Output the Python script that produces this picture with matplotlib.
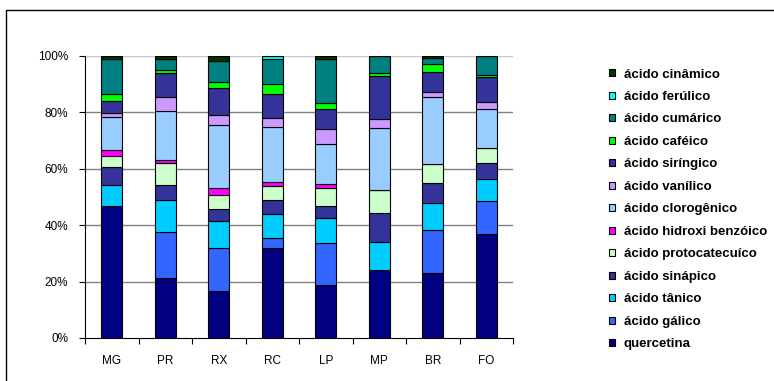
import matplotlib

matplotlib.use("Agg")

import matplotlib.pyplot as plt
from matplotlib.patches import Rectangle
from matplotlib.ticker import FixedLocator, PercentFormatter
import numpy as np

plt.rcParams["font.family"] = ["Liberation Sans", "DejaVu Sans"]

AMOSTRAS = ["MG", "PR", "RX", "RC", "LP", "MP", "BR", "FO"]

# composição relativa (%) de cada composto por amostra, de baixo para cima
quercetina = [46.8, 21.3, 16.7, 32.0, 18.8, 24.0, 23.2, 37.0]
galico = [0.0, 16.3, 15.1, 3.6, 14.9, 0.0, 15.2, 11.6]
tanico = [7.6, 11.5, 9.8, 8.5, 9.0, 10.2, 9.6, 7.7]
sinapico = [6.1, 5.3, 4.3, 4.8, 4.0, 10.0, 7.1, 5.6]
protocatecuico = [4.0, 7.5, 4.9, 4.9, 6.6, 8.3, 6.5, 5.5]
hidroxi_benzoico = [2.0, 1.3, 2.5, 1.5, 1.2, 0.0, 0.0, 0.0]
clorogenico = [11.9, 17.2, 22.1, 19.6, 14.4, 21.8, 23.7, 13.9]
vanilico = [1.5, 5.2, 3.8, 3.0, 5.3, 3.4, 1.9, 2.3]
siringico = [4.1, 8.5, 9.5, 8.5, 7.1, 15.3, 7.0, 8.8]
cafeico = [2.4, 1.1, 2.2, 3.6, 2.2, 1.1, 3.0, 1.0]
cumarico = [12.5, 3.9, 7.4, 8.8, 15.6, 5.9, 2.1, 6.6]
ferulico = [0.0, 0.0, 0.0, 1.2, 0.0, 0.0, 0.0, 0.0]
cinamico = [1.1, 0.9, 1.7, 0.0, 0.9, 0.0, 0.7, 0.0]

SERIES = [
    ("quercetina", quercetina, "#000080"),
    ("ácido gálico", galico, "#3366FF"),
    ("ácido tânico", tanico, "#00CCFF"),
    ("ácido sinápico", sinapico, "#333399"),
    ("ácido protocatecuíco", protocatecuico, "#CCFFCC"),
    ("ácido hidroxi benzóico", hidroxi_benzoico, "#FF00FF"),
    ("ácido clorogênico", clorogenico, "#99CCFF"),
    ("ácido vanílico", vanilico, "#CC99FF"),
    ("ácido siríngico", siringico, "#333399"),
    ("ácido caféico", cafeico, "#00FF00"),
    ("ácido cumárico", cumarico, "#008080"),
    ("ácido ferúlico", ferulico, "#00FFFF"),
    ("ácido cinâmico", cinamico, "#003300"),
]

W, H = 774, 381
fig = plt.figure(figsize=(W / 100, H / 100), dpi=100, facecolor="white")

# moldura da área do gráfico (só as bordas esquerda e superior ficam visíveis)
fig.patches.append(Rectangle((6 / W, -0.2), 1.2, 1.2 - 10 / H, transform=fig.transFigure,
                             fill=False, edgecolor="black", linewidth=1.0))

ax = fig.add_axes((85 / W, 1 - 338 / H, 428 / W, 282 / H))

valores = np.array([s[1] for s in SERIES], dtype=float)
percent = valores / valores.sum(axis=0) * 100.0
x = np.arange(len(AMOSTRAS))
base = np.zeros(len(AMOSTRAS))
handles = []
for (nome, _, cor), linha in zip(SERIES, percent):
    barras = ax.bar(x, linha, width=0.40, bottom=base, color=cor,
                    edgecolor="black", linewidth=0.8, label=nome, zorder=3)
    handles.append(barras)
    base += linha

ax.set_xlim(-0.5, len(AMOSTRAS) - 0.5)
ax.set_ylim(0, 100)
ax.yaxis.set_major_locator(FixedLocator([0, 20, 40, 60, 80, 100]))
ax.yaxis.set_major_formatter(PercentFormatter(decimals=0))
for y in [20, 40, 60, 80]:
    ax.axhline(y, color="#808080", linewidth=1.0, zorder=1)
ax.axhline(100, color="#C8C8C8", linewidth=1.0, zorder=1)

# marcas entre categorias, rótulos no centro
ax.set_xticks(np.arange(-0.5, len(AMOSTRAS), 1.0))
ax.set_xticklabels([])
ax.set_xticks(x, minor=True)
ax.set_xticklabels(AMOSTRAS, minor=True)
ax.tick_params(axis="x", which="major", direction="out", length=4, width=0.8)
ax.tick_params(axis="x", which="minor", length=0, pad=12, labelsize=8.5)
ax.tick_params(axis="y", direction="out", length=4, width=0.8, pad=8, labelsize=8.5)

for lado in ("top", "right"):
    ax.spines[lado].set_visible(False)
for lado in ("left", "bottom"):
    ax.spines[lado].set_linewidth(0.8)

fig.legend(handles[::-1], [s[0] for s in SERIES][::-1],
           loc="upper left", bbox_to_anchor=(609 / W, 1 - 68.5 / H),
           frameon=False, prop={"weight": "bold", "size": 9.5},
           handlelength=0.46, handleheight=0.46, handletextpad=0.66,
           labelspacing=0.795, borderaxespad=0, borderpad=0)

fig.savefig("out.png", dpi=100, facecolor="white")
